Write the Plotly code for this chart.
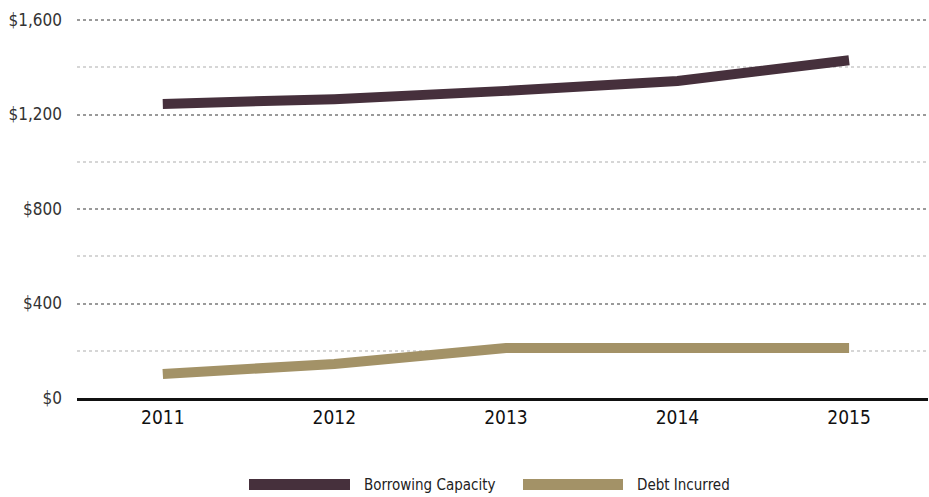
import plotly.graph_objects as go

years = ["2011", "2012", "2013", "2014", "2015"]
borrowing_capacity = [1245, 1265, 1300, 1342, 1430]
debt_incurred = [102, 144, 212, 212, 212]

y_tickvals = [0, 400, 800, 1200, 1600]
y_ticktext = ["$0", "$400", "$800", "$1,200", "$1,600"]

COLOR_BORROW = "#46303c"
COLOR_DEBT = "#a39267"
FONT = "DejaVu Sans Condensed, Roboto, sans-serif"

fig = go.Figure()
fig.add_trace(go.Scatter(x=years, y=borrowing_capacity, mode="lines",
                         name="Borrowing Capacity",
                         line=dict(color=COLOR_BORROW, width=10)))
fig.add_trace(go.Scatter(x=years, y=debt_incurred, mode="lines",
                         name="Debt Incurred",
                         line=dict(color=COLOR_DEBT, width=10)))

fig.update_layout(
    width=929, height=497,
    margin=dict(l=77, r=1, t=18, b=99),
    paper_bgcolor="white", plot_bgcolor="white",
    showlegend=False,
    font=dict(family=FONT),
    xaxis=dict(
        type="category", range=[-0.5, 4.46],
        showgrid=False, showline=True, linecolor="#111", linewidth=2.5,
        ticks="", tickfont=dict(size=19, color="#111"),
    ),
    yaxis=dict(
        range=[0, 1608.5], tickvals=y_tickvals, ticktext=y_ticktext,
        showgrid=True, gridcolor="#9a9a9a", gridwidth=2, griddash="dot",
        zeroline=False, showline=False, ticks="",
        tickfont=dict(size=17, color="#333"), ticklabelstandoff=14,
        minor=dict(dtick=200, showgrid=True, gridcolor="#d6d6d6",
                   gridwidth=2, griddash="dot"),
    ),
)

# Legend: wide colour swatches with labels beneath the plot
plot_h = 380
legend_items = [
    ("Borrowing Capacity", COLOR_BORROW, 249, 350, 362),
    ("Debt Incurred", COLOR_DEBT, 523, 623, 635),
]
for label, color, x0, x1, tx in legend_items:
    fig.add_shape(type="rect", xref="paper", yref="paper",
                  x0=(x0 - 77) / 851, x1=(x1 - 77) / 851,
                  y0=(398 - 490) / plot_h, y1=(398 - 479) / plot_h,
                  fillcolor=color, line=dict(width=0))
    fig.add_annotation(text=label, xref="paper", yref="paper",
                       x=(tx - 77) / 851, y=(398 - 484.5) / plot_h,
                       xanchor="left", yanchor="middle", showarrow=False,
                       font=dict(size=15, color="#222", family=FONT))

fig.write_html("out.html")
